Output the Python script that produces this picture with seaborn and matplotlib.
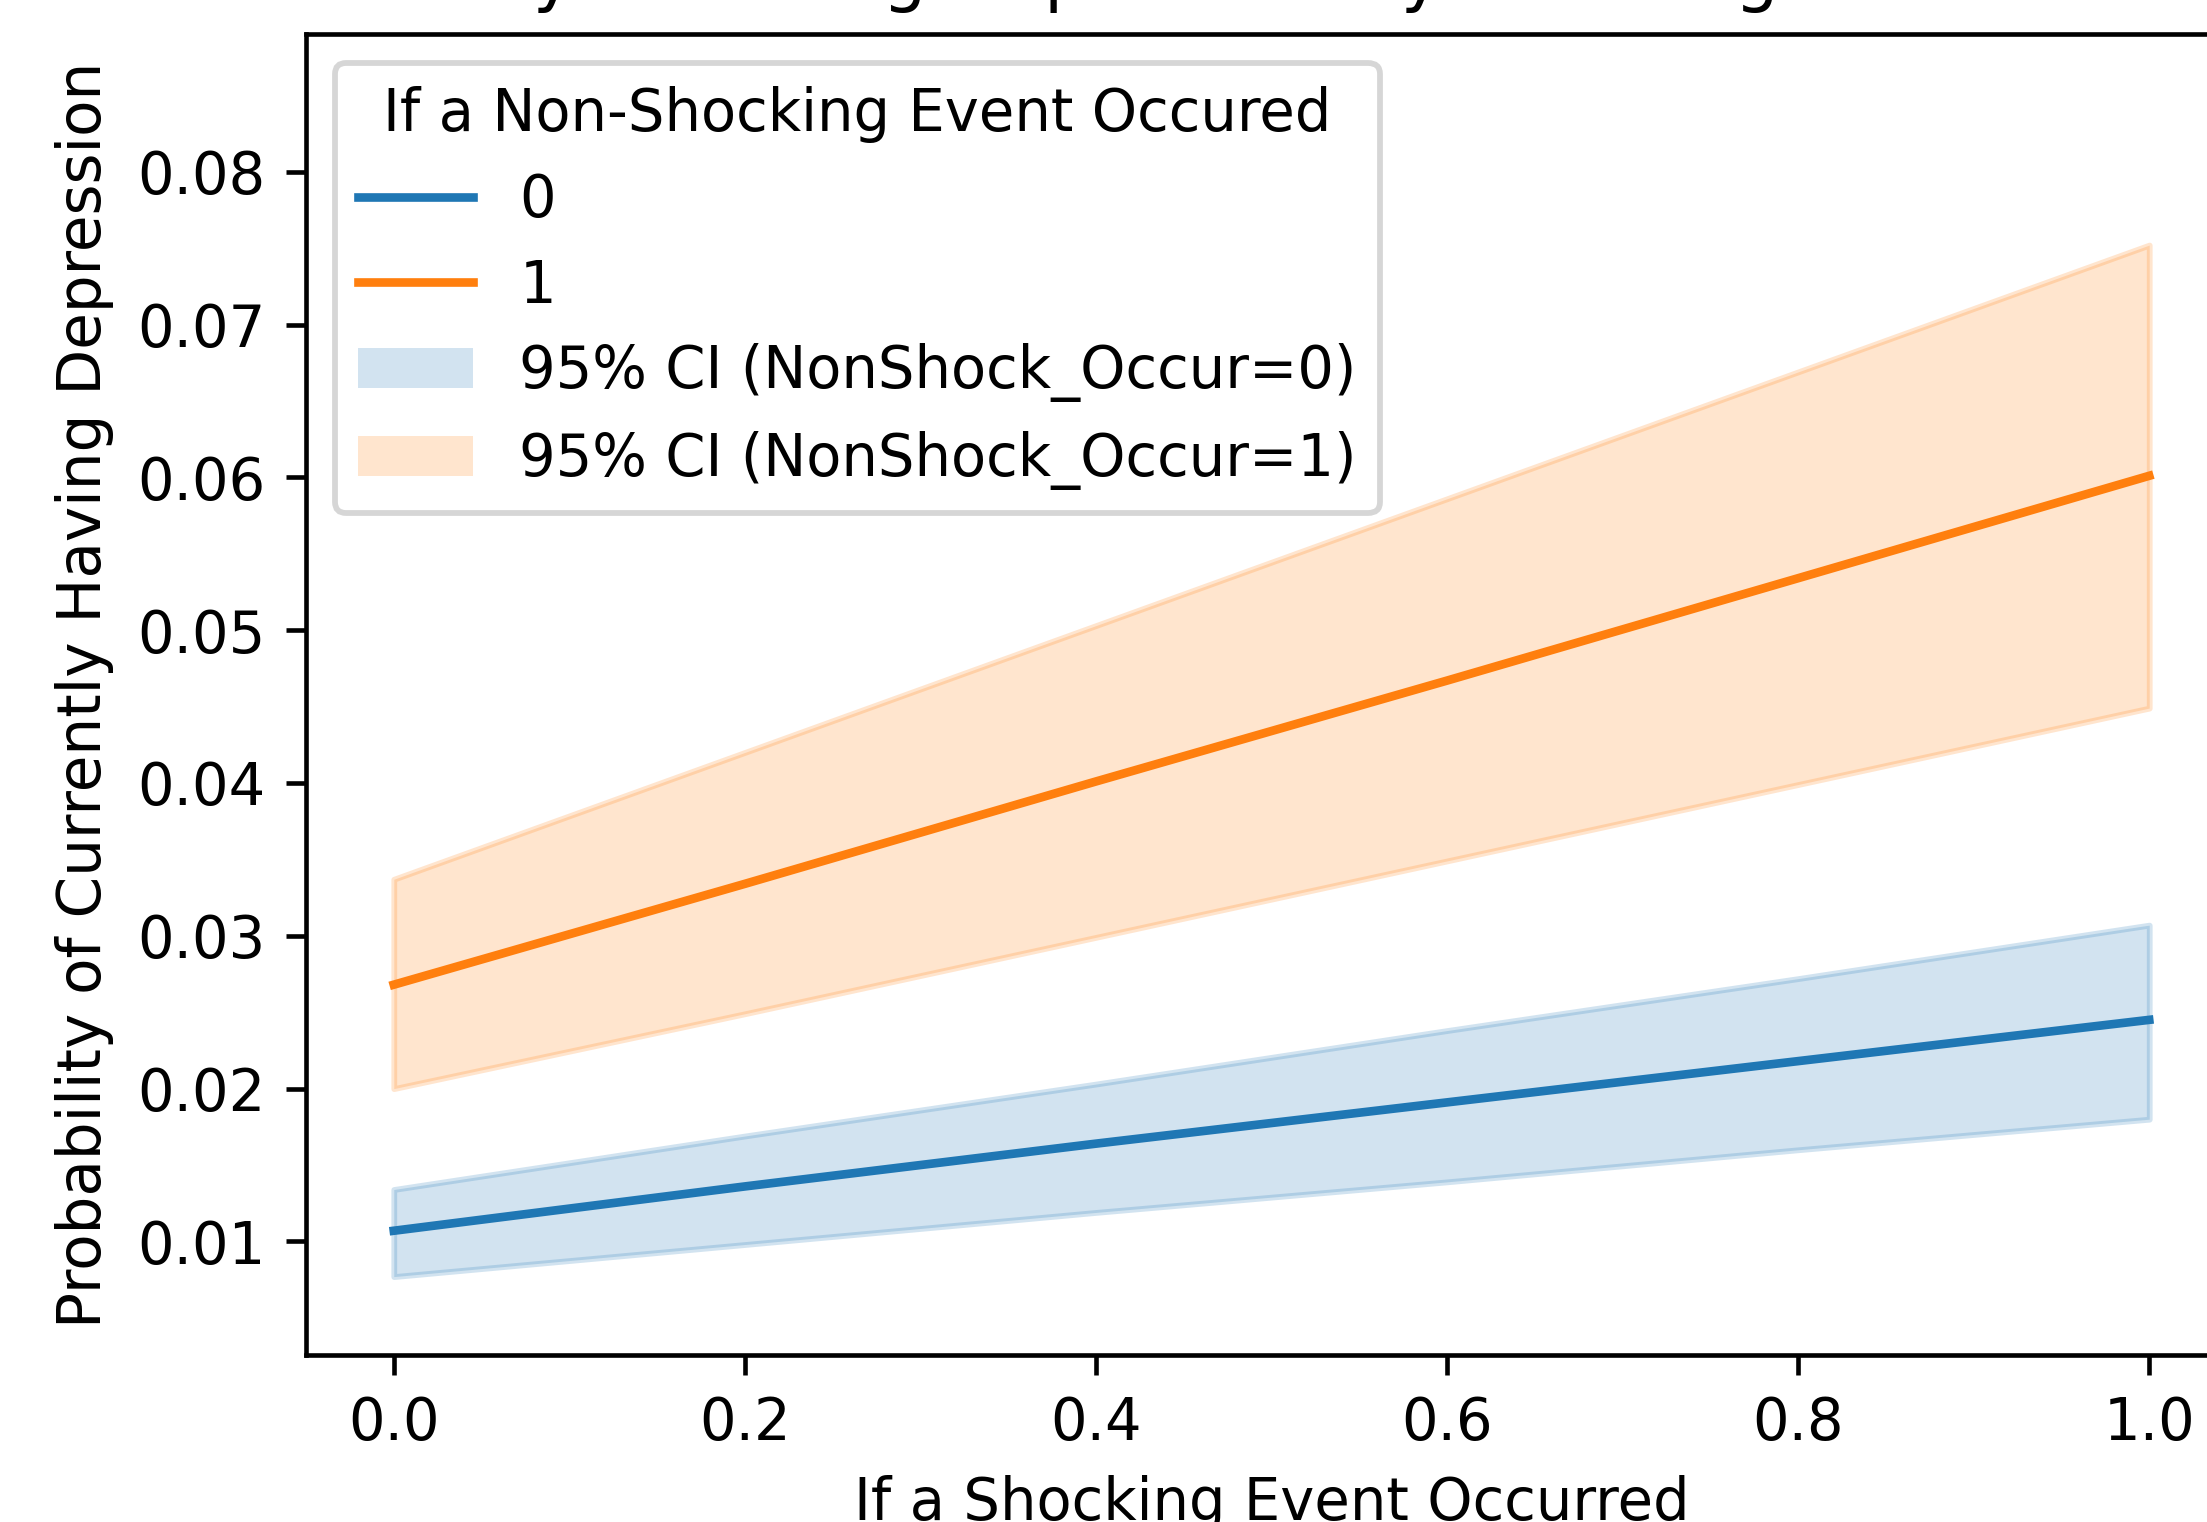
import pandas as pd
import matplotlib
matplotlib.use("Agg")
import matplotlib.pyplot as plt
from matplotlib.patches import Patch
import seaborn as sns

# Predicted probabilities, by shock occurrence
shock = [0.0, 0.2, 0.4, 0.6, 0.8, 1.0]

pred_nonshock0 = [0.0107, 0.0136, 0.0164, 0.0191, 0.0218, 0.0245]
lower_nonshock0 = [0.0077, 0.0098, 0.0119, 0.0139, 0.0160, 0.0180]
upper_nonshock0 = [0.0134, 0.0169, 0.0203, 0.0238, 0.0272, 0.0307]

pred_nonshock1 = [0.0268, 0.0334, 0.0401, 0.0467, 0.0534, 0.0601]
lower_nonshock1 = [0.0200, 0.0249, 0.0299, 0.0349, 0.0399, 0.0449]
upper_nonshock1 = [0.0337, 0.0420, 0.0503, 0.0586, 0.0669, 0.0752]

nonshock_levels = ["0", "1"]

DPI = 415
W, H = 2207, 1522

fig = plt.figure(figsize=(W / DPI, H / DPI), dpi=DPI)
# axes runs past the right edge of the image, like the cropped original
ax = fig.add_axes([306 / W, (H - 1355) / H, 1931 / W, 1321 / H])

df = pd.DataFrame({
    "Shock_Occur": shock + shock,
    "pred_prob": pred_nonshock0 + pred_nonshock1,
    "NonShock_Occur": [nonshock_levels[0]] * len(shock) + [nonshock_levels[1]] * len(shock),
})

sns.lineplot(data=df, x="Shock_Occur", y="pred_prob", hue="NonShock_Occur",
             hue_order=nonshock_levels, palette=["C0", "C1"], errorbar=None, ax=ax)

ax.fill_between(shock, lower_nonshock0, upper_nonshock0, color="C0", alpha=0.2)
ax.fill_between(shock, lower_nonshock1, upper_nonshock1, color="C1", alpha=0.2)

ax.set_xlim(-0.05, 1.05)
ax.set_ylim(0.00257, 0.08901)
ax.set_xlabel("If a Shocking Event Occurred")
ax.set_ylabel("Probability of Currently Having Depression", fontsize=10.35)
ax.set_title("Probability of Having Depression by Shocking Event Occurred")

# line entries from seaborn, plain patches for the CI bands
handles, labels = ax.get_legend_handles_labels()
handles += [Patch(facecolor="C0", alpha=0.2, edgecolor="none"),
            Patch(facecolor="C1", alpha=0.2, edgecolor="none")]
labels += ["95% CI (NonShock_Occur=0)", "95% CI (NonShock_Occur=1)"]
ax.legend(handles, labels, title="If a Non-Shocking Event Occured", loc="upper left")

fig.savefig("out.png", dpi=DPI)
plt.close(fig)
